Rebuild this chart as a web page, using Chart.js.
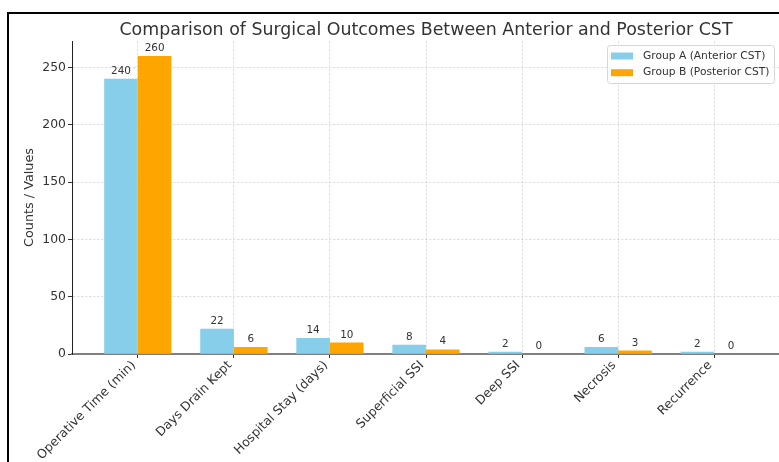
<!DOCTYPE html>
<html>
<head>
<meta charset="utf-8">
<script src="https://cdn.jsdelivr.net/npm/chart.js@4.4.1/dist/chart.umd.min.js"></script>
<style>
  html, body { margin: 0; padding: 0; background: #fff; overflow: hidden; width: 779px; height: 462px; }
  #frame { position: absolute; left: 7px; top: 12px; width: 800px; height: 500px;
           border-left: 2px solid #000; border-top: 2px solid #000; }
  #wrap { position: absolute; left: 0; top: 0; width: 782px; height: 462px; }
</style>
</head>
<body>
<div id="frame"></div>
<div id="wrap"><canvas id="chart" width="782" height="462"></canvas></div>
<script>
// Outcome categories and the values for each surgical group
const categories = ['Operative Time (min)', 'Days Drain Kept', 'Hospital Stay (days)',
                    'Superficial SSI', 'Deep SSI', 'Necrosis', 'Recurrence'];
const groupA = [240, 22, 14, 8, 2, 6, 2];
const groupB = [260, 6, 10, 4, 0, 3, 0];
const seriesNames = ['Group A (Anterior CST)', 'Group B (Posterior CST)'];
const yTicks = [0, 50, 100, 150, 200, 250];

const FONT = "'DejaVu Sans', sans-serif";
const TEXT = '#333';
const GRID = '#d2d2d2';

const toPoints = vals => vals.map((v, i) => ({ x: i, y: v }));

// Title centred over the plotting area
const titlePlugin = {
  id: 'plotTitle',
  afterDraw(chart) {
    const { ctx, chartArea } = chart;
    ctx.save();
    ctx.font = `17.4px ${FONT}`;
    ctx.fillStyle = TEXT;
    ctx.textAlign = 'center';
    ctx.textBaseline = 'alphabetic';
    ctx.fillText('Comparison of Surgical Outcomes Between Anterior and Posterior CST',
                 (chartArea.left + chartArea.right) / 2, 35);
    ctx.restore();
  }
};

// Value annotation above every bar
const valueLabels = {
  id: 'valueLabels',
  afterDatasetsDraw(chart) {
    const { ctx } = chart;
    ctx.save();
    ctx.font = `10.4px ${FONT}`;
    ctx.fillStyle = TEXT;
    ctx.textAlign = 'center';
    ctx.textBaseline = 'alphabetic';
    chart.data.datasets.forEach((ds, di) => {
      chart.getDatasetMeta(di).data.forEach((bar, i) => {
        ctx.fillText(String(ds.data[i].y), bar.x, bar.y - 5);
      });
    });
    ctx.restore();
  }
};

// Legend box in the upper right corner of the plot
const legendBox = {
  id: 'legendBox',
  afterDraw(chart) {
    const { ctx, chartArea } = chart;
    const x0 = chartArea.right - 173, y0 = chartArea.top + 4, w = 167, h = 38;
    ctx.save();
    ctx.beginPath();
    ctx.roundRect(x0 + 0.5, y0 + 0.5, w, h, 3);
    ctx.fillStyle = 'rgba(255,255,255,0.8)';
    ctx.fill();
    ctx.strokeStyle = '#d6d6d6';
    ctx.lineWidth = 1;
    ctx.stroke();
    ctx.font = `10.7px ${FONT}`;
    ctx.textBaseline = 'middle';
    ctx.textAlign = 'left';
    chart.data.datasets.forEach((ds, i) => {
      const cy = y0 + 11 + i * 16.7;
      ctx.fillStyle = ds.backgroundColor;
      ctx.fillRect(x0 + 4, cy - 3.5, 22, 7);
      ctx.fillStyle = TEXT;
      ctx.fillText(ds.label, x0 + 36, cy);
    });
    ctx.restore();
  }
};

new Chart(document.getElementById('chart'), {
  type: 'bar',
  data: {
    datasets: [
      { label: seriesNames[0], data: toPoints(groupA), backgroundColor: '#87CEEB' },
      { label: seriesNames[1], data: toPoints(groupB), backgroundColor: '#FFA500' }
    ]
  },
  options: {
    responsive: false,
    animation: false,
    events: [],
    categoryPercentage: 0.7,
    barPercentage: 1.0,
    layout: { padding: { left: 0, top: 41, right: 2, bottom: 0 } },
    plugins: { legend: { display: false }, title: { display: false }, tooltip: { enabled: false } },
    scales: {
      x: {
        type: 'linear',
        min: -0.685,
        max: 6.685,
        offset: false,
        afterBuildTicks: s => { s.ticks = categories.map((c, i) => ({ value: i })); },
        afterFit: s => { s.height = 108; s.paddingLeft = 0; s.paddingRight = 0; },
        ticks: {
          autoSkip: false,
          minRotation: 45,
          maxRotation: 45,
          padding: 0,
          labelOffset: -4,
          color: TEXT,
          font: { family: FONT, size: 12.5 },
          callback: v => categories[v]
        },
        grid: { offset: false, color: GRID, lineWidth: 0.7, tickLength: 4, tickColor: '#333', tickWidth: 1 },
        border: { display: true, color: '#808080', width: 2, dash: [2.5, 1.5] }
      },
      y: {
        min: 0,
        max: 273,
        afterBuildTicks: s => { s.ticks = yTicks.map(v => ({ value: v })); },
        afterFit: s => { s.width = 72; s.paddingTop = 0; s.paddingBottom = 0; },
        ticks: { padding: 2, color: TEXT, font: { family: FONT, size: 12.4 } },
        grid: { color: GRID, lineWidth: 0.7, tickLength: 4, tickColor: '#333', tickWidth: 1 },
        border: { display: true, color: '#222', width: 1, dash: [2.5, 1.5] },
        title: {
          display: true,
          text: 'Counts / Values',
          color: TEXT,
          font: { family: FONT, size: 12.8 },
          padding: { top: 22, bottom: 0 }
        }
      }
    }
  },
  plugins: [titlePlugin, valueLabels, legendBox]
});
</script>
</body>
</html>
